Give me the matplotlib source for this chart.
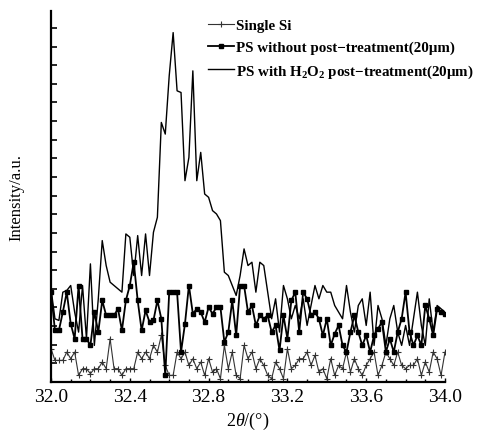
import numpy as np
import matplotlib
matplotlib.use("Agg")
import matplotlib.pyplot as plt
from matplotlib.ticker import MultipleLocator

plt.rcParams['font.family'] = ['Liberation Serif', 'DejaVu Serif']
plt.rcParams['mathtext.fontset'] = 'custom'
plt.rcParams['mathtext.rm'] = 'Liberation Serif'
plt.rcParams['mathtext.it'] = 'Liberation Serif:italic'
plt.rcParams['mathtext.bf'] = 'Liberation Serif:bold'
plt.rcParams['mathtext.default'] = 'regular'

two_theta = np.round(np.arange(32.0, 34.0001, 0.02), 2)

single_si = [10, 6.5, 6.5, 6.5, 9, 7, 9, 2, 4, 4, 2.5, 4, 4, 6, 4, 13, 4, 4, 2, 4,
             4, 4, 9, 7, 9, 7, 11, 9, 14, 5, 2, 2, 9, 7, 9, 5, 7, 4, 6, 2,
             7, 3, 4, 1, 11, 4, 9, 2, 1, 11, 7, 9, 4, 7, 5, 2, 1, 6, 4, 1,
             10, 4, 5, 7, 7, 9, 5, 8, 3, 4, 1, 7, 2, 5, 4, 9, 3, 7, 4, 2,
             5, 7, 9, 2, 5, 9, 7, 5, 9, 5, 4, 5, 5, 7, 2, 6, 3, 9, 7, 2, 9]

ps_without = [27, 15.5, 15.5, 21, 27, 17.5, 13, 29, 13, 13, 11, 21, 15, 24.5, 20, 20, 20, 22, 15.5, 24.5,
              29, 36, 24.5, 15.5, 21.5, 18, 18.5, 24.5, 19, 2, 27, 27, 27, 9, 17.5, 29, 20.5, 22, 21, 18,
              22.5, 20.5, 22.5, 22.5, 12, 15, 24.5, 14, 29, 29, 21, 23, 17, 20, 19, 20, 15, 17, 9.5, 20,
              13, 24.5, 27, 15, 27, 25, 20, 21, 19, 14, 19, 11, 14.5, 17, 11, 9, 15, 20, 15, 11,
              14, 9, 14, 16, 18, 9, 13, 9, 15, 19, 27, 15, 11, 14, 11, 23, 19, 14, 22, 21, 20.5]

ps_h2o2 = [28, 19, 18.5, 27, 27.5, 29, 21, 15, 29, 13, 35.5, 11, 25, 42.5, 35, 30, 29, 28, 27, 44.5,
           43.5, 32, 44, 32, 44.5, 32, 45, 49.5, 78, 74.5, 92, 105, 87.5, 87, 60.5, 67.5, 93.5, 60.5, 69, 56.5,
           55.5, 51.5, 50.5, 48.5, 33, 32, 29, 26, 32, 40, 35, 36, 27, 36, 35, 27, 19, 25, 15, 29,
           25, 19, 23, 19, 25, 17, 23, 29, 25, 29, 27, 27, 23, 21, 19, 29, 21, 15, 23, 25,
           17, 27, 11, 23, 19, 11, 19, 23, 15, 11, 17, 11, 19, 27, 17, 11, 25, 15, 23, 22, 21]

labels = ['Single Si',
          'PS without post\u2212treatment(20\u03bcm)',
          'PS with H$_2$O$_2$ post\u2212treatment(20\u03bcm)']
x_ticks = [32.0, 32.4, 32.8, 33.2, 33.6, 34.0]

fig = plt.figure(figsize=(4.79, 4.35), dpi=100)
ax = fig.add_axes([0.1065, 0.1195, 0.8225, 0.8530])

ax.plot(two_theta, single_si, color='#333333', lw=0.8, marker='+', ms=4, mew=0.8, label=labels[0])
ax.plot(two_theta, ps_without, color='black', lw=1.3, marker='s', ms=3.2, label=labels[1])
ax.plot(two_theta, ps_h2o2, color='black', lw=1.0, label=labels[2])

ax.set_xlim(32.0, 34.0)
ax.set_ylim(0, 111.5)
ax.spines['top'].set_visible(False)
ax.spines['right'].set_visible(False)
ax.spines['left'].set_linewidth(1.6)
ax.spines['bottom'].set_linewidth(1.6)

ax.set_xticks(x_ticks)
ax.set_xticklabels(['%.1f' % t for t in x_ticks])
ax.xaxis.set_minor_locator(MultipleLocator(0.1))
ax.tick_params(axis='x', direction='in', length=3, width=1, labelsize=14, pad=4)
ax.tick_params(axis='x', which='minor', direction='in', length=2, width=1)

ax.yaxis.set_major_locator(MultipleLocator(11.2))
ax.yaxis.set_minor_locator(MultipleLocator(5.6))
ax.set_yticklabels([])
ax.tick_params(axis='y', which='both', direction='in', length=4, width=1.2)

ax.set_xlabel(r'2$\it{\theta}$/(°)', fontsize=13, labelpad=4)
ax.set_ylabel('Intensity/a.u.', fontsize=12, labelpad=16)

leg = ax.legend(loc='upper left', bbox_to_anchor=(0.383, 0.995), frameon=False,
                prop={'size': 10.8, 'weight': 'bold'}, handlelength=1.75,
                handletextpad=0.12, labelspacing=0.55, borderaxespad=0)

fig.savefig('out.png', dpi=100)
